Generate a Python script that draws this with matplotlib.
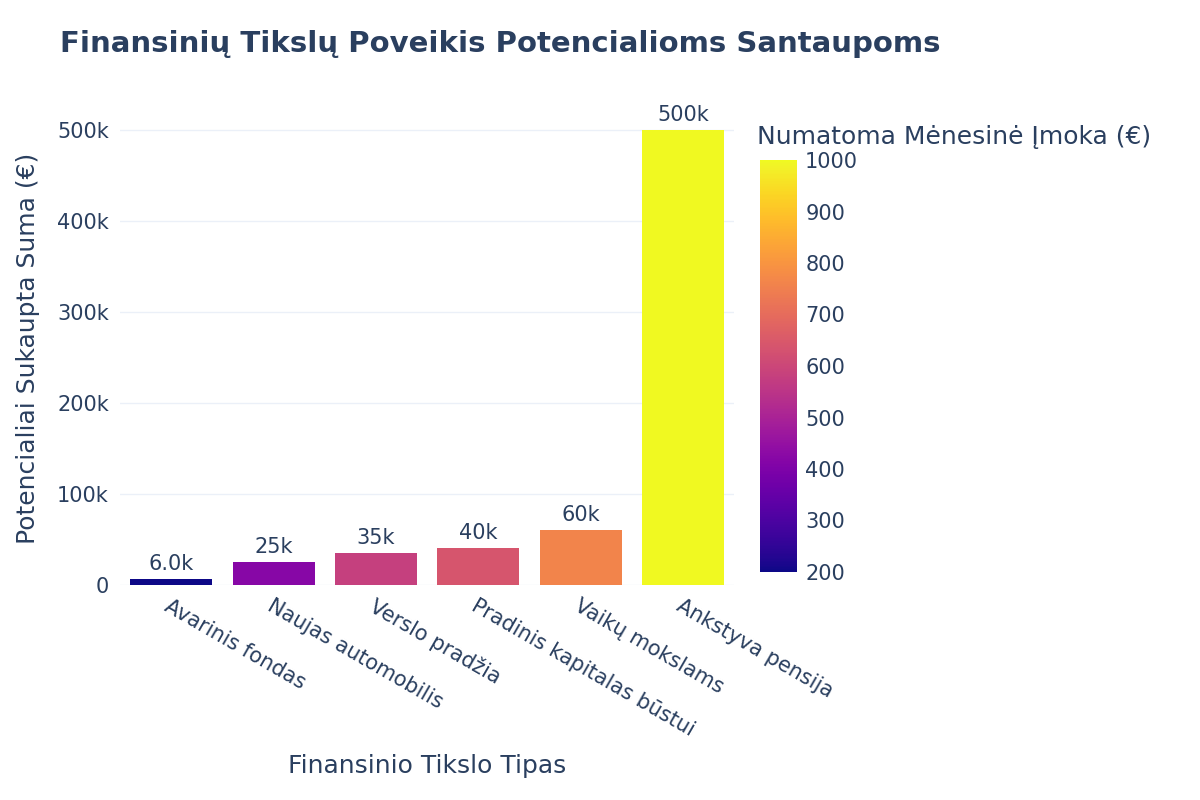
import matplotlib.pyplot as plt
import matplotlib as mpl
import numpy as np

goals = ["Avarinis fondas", "Naujas automobilis", "Verslo pradžia",
         "Pradinis kapitalas būstui", "Vaikų mokslams", "Ankstyva pensija"]
savings = [6000, 25000, 35000, 40000, 60000, 500000]
monthly = [200, 420, 580, 640, 760, 1000]
bar_labels = ["6.0k", "25k", "35k", "40k", "60k", "500k"]
y_ticks = [0, 100000, 200000, 300000, 400000, 500000]
y_tick_labels = ["0", "100k", "200k", "300k", "400k", "500k"]

txt = "#2a3f5f"
plt.rcParams["font.family"] = "DejaVu Sans"

fig = plt.figure(figsize=(12, 8), dpi=100)
ax = fig.add_axes([0.1, 0.269, 0.512, 0.591])
cmap = mpl.colormaps["plasma"]
norm = mpl.colors.Normalize(vmin=200, vmax=1000)

x = np.arange(len(goals))
ax.bar(x, savings, width=0.8, color=cmap(norm(monthly)), zorder=3)
for xi, v, lab in zip(x, savings, bar_labels):
    ax.text(xi, v + 6000, lab, ha="center", va="bottom", fontsize=15, color=txt, zorder=4)

ax.set_xlim(-0.5, len(goals) - 0.5)
ax.set_ylim(0, 520000)
ax.set_yticks(y_ticks)
ax.set_yticklabels(y_tick_labels, fontsize=15, color=txt)
ax.set_xticks(x)
ax.set_xticklabels(goals, fontsize=15, color=txt, rotation=-30,
                   ha="left", va="top", rotation_mode="anchor")
ax.tick_params(length=0, pad=8)
ax.grid(axis="y", color="#ebf0f8", linewidth=1, zorder=0)
for s in ax.spines.values():
    s.set_visible(False)
ax.set_ylabel("Potencialiai Sukaupta Suma (€)", fontsize=18, color=txt, labelpad=12)
ax.set_xlabel("Finansinio Tikslo Tipas", fontsize=18, color=txt, labelpad=10)

fig.text(0.05, 0.945, "Finansinių Tikslų Poveikis Potencialioms Santaupoms",
         fontsize=21, fontweight="bold", color=txt, va="center")

cax = fig.add_axes([0.633, 0.285, 0.031, 0.515])
cb = fig.colorbar(mpl.cm.ScalarMappable(norm=norm, cmap=cmap), cax=cax)
cb.set_ticks(range(200, 1001, 100))
cb.ax.tick_params(labelsize=15, labelcolor=txt, length=0, pad=6)
cb.outline.set_visible(False)
fig.text(0.631, 0.829, "Numatoma Mėnesinė Įmoka (€)", fontsize=18, color=txt, va="center")

fig.savefig("out.png", dpi=100)
